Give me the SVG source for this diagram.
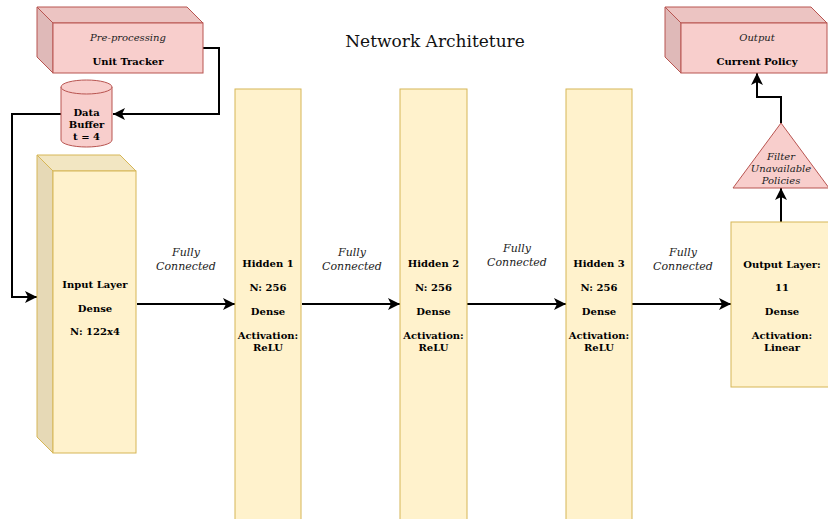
<svg xmlns="http://www.w3.org/2000/svg" width="828" height="519" viewBox="0 0 828 519">
<style>
.pk{fill:#f8cecc;stroke:#b85450;stroke-width:1}
.pkt{fill:#ecc4c2;stroke:#b85450;stroke-width:1}
.pks{fill:#dfb9b8;stroke:#b85450;stroke-width:1}
.yl{fill:#fff2cc;stroke:#d6b656;stroke-width:1}
.ylt{fill:#f2e6c2;stroke:#d6b656;stroke-width:1}
.yls{fill:#e6d9b6;stroke:#d6b656;stroke-width:1}
.b{font-family:"DejaVu Serif",serif;font-weight:bold;font-size:10px;fill:#000;text-anchor:middle}
.i{font-family:"DejaVu Serif",serif;font-style:italic;font-size:10px;fill:#222;text-anchor:middle}
.fc{font-family:"DejaVu Serif",serif;font-style:italic;font-size:11px;fill:#222;text-anchor:middle}
.t{font-family:"DejaVu Serif",serif;font-size:17px;fill:#111;text-anchor:middle}
.e{fill:none;stroke:#000;stroke-width:2}
</style>
<defs>
<marker id="ah" markerUnits="userSpaceOnUse" markerWidth="14" markerHeight="12" refX="12" refY="6" orient="auto">
<path d="M0,0 L12,6 L0,12 L3,6 z" fill="#000"/>
</marker>
</defs>
<rect width="828" height="519" fill="#fff"/>
<text class="t" x="435" y="47">Network Architeture</text>

<g id="connectors">
<path class="e" d="M202,48 H219 V114 H113" marker-end="url(#ah)"/>
<path class="e" d="M61,114 H12 V297 H37" marker-end="url(#ah)"/>
<path class="e" d="M137,304 H235" marker-end="url(#ah)"/>
<path class="e" d="M302,304 H400" marker-end="url(#ah)"/>
<path class="e" d="M467,304 H566" marker-end="url(#ah)"/>
<path class="e" d="M632,304 H731" marker-end="url(#ah)"/>
<path class="e" d="M781,222 V188" marker-end="url(#ah)"/>
<path class="e" d="M781,123 V97 H757 V73" marker-end="url(#ah)"/>
<text class="fc" x="186" y="256">Fully</text>
<text class="fc" x="186" y="270">Connected</text>
<text class="fc" x="352" y="256">Fully</text>
<text class="fc" x="352" y="270">Connected</text>
<text class="fc" x="517" y="252">Fully</text>
<text class="fc" x="517" y="266">Connected</text>
<text class="fc" x="683" y="256">Fully</text>
<text class="fc" x="683" y="270">Connected</text>
</g>

<g id="unit-tracker">
<polygon class="pkt" points="37,7 187,7 203,23 53,23"/>
<polygon class="pks" points="37,7 53,23 53,73 37,57"/>
<rect class="pk" x="53" y="23" width="150" height="50"/>
<text class="i" x="128" y="41">Pre-processing</text>
<text class="b" x="128" y="65">Unit Tracker</text>
</g>

<g id="data-buffer">
<path class="pk" d="M61,87 A25.5,7 0 0 1 112,87 V140 A25.5,7 0 0 1 61,140 Z"/>
<path class="pk" d="M61,87 A25.5,7 0 0 0 112,87" fill="none"/>
<text class="b" x="86.5" y="116">Data</text>
<text class="b" x="86.5" y="128">Buffer</text>
<text class="b" x="86.5" y="140">t = 4</text>
</g>

<g id="input-layer">
<polygon class="ylt" points="37,155 120,155 136,171 53,171"/>
<polygon class="yls" points="37,155 53,171 53,453 37,437"/>
<rect class="yl" x="53" y="171" width="83" height="282"/>
<text class="b" x="95" y="288">Input Layer</text>
<text class="b" x="95" y="312">Dense</text>
<text class="b" x="95" y="335">N: 122x4</text>
</g>

<g id="hidden-1">
<rect class="yl" x="235" y="89" width="66" height="440"/>
<text class="b" x="268" y="267">Hidden 1</text>
<text class="b" x="268" y="291">N: 256</text>
<text class="b" x="268" y="315">Dense</text>
<text class="b" x="268" y="339">Activation:</text>
<text class="b" x="268" y="351">ReLU</text>
</g>

<g id="hidden-2">
<rect class="yl" x="400" y="89" width="67" height="440"/>
<text class="b" x="433.5" y="267">Hidden 2</text>
<text class="b" x="433.5" y="291">N: 256</text>
<text class="b" x="433.5" y="315">Dense</text>
<text class="b" x="433.5" y="339">Activation:</text>
<text class="b" x="433.5" y="351">ReLU</text>
</g>

<g id="hidden-3">
<rect class="yl" x="566" y="89" width="66" height="440"/>
<text class="b" x="599" y="267">Hidden 3</text>
<text class="b" x="599" y="291">N: 256</text>
<text class="b" x="599" y="315">Dense</text>
<text class="b" x="599" y="339">Activation:</text>
<text class="b" x="599" y="351">ReLU</text>
</g>

<g id="output-layer">
<rect class="yl" x="731" y="222" width="102" height="165"/>
<text class="b" x="782" y="268">Output Layer:</text>
<text class="b" x="782" y="291">11</text>
<text class="b" x="782" y="315">Dense</text>
<text class="b" x="782" y="339">Activation:</text>
<text class="b" x="782" y="351">Linear</text>
</g>

<g id="filter">
<polygon class="pk" points="781,123 829,188 733,188"/>
<text class="i" x="781" y="160">Filter</text>
<text class="i" x="781" y="172">Unavailable</text>
<text class="i" x="781" y="184">Policies</text>
</g>

<g id="current-policy">
<polygon class="pkt" points="665,7 811,7 827,23 681,23"/>
<polygon class="pks" points="665,7 681,23 681,73 665,57"/>
<rect class="pk" x="681" y="23" width="146" height="50"/>
<text class="i" x="757" y="41">Output</text>
<text class="b" x="757" y="65">Current Policy</text>
</g>
</svg>
